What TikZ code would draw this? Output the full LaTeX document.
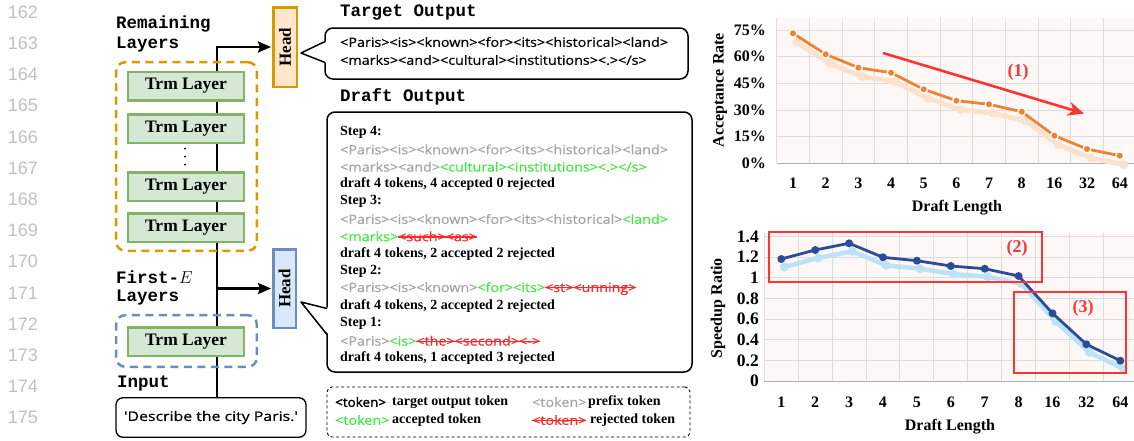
\documentclass[tikz,border=0pt]{standalone}
\usepackage{fontspec}
\setmainfont{Liberation Serif}
\newfontfamily\courb{Liberation Mono}
\newfontfamily\comic{Open Sans}[Ligatures=TeXOff, FakeStretch=1.12, FakeBold=0.6]
\newfontfamily\comicw{Open Sans}[Ligatures=TeXOff, FakeStretch=1.2, FakeBold=0.6]
\newfontfamily\comicb{Open Sans}[Ligatures=TeXOff, FakeStretch=1.05, FakeBold=1.8]
\newfontfamily\lnfont{Liberation Sans}
\usetikzlibrary{arrows.meta,backgrounds}
\definecolor{orgD}{HTML}{D79B00}
\definecolor{orgF}{HTML}{FFE6CC}
\definecolor{grnD}{HTML}{82B366}
\definecolor{grnF}{HTML}{D5E8D4}
\definecolor{bluD}{HTML}{6C8EBF}
\definecolor{bluF}{HTML}{DAE8FC}
\definecolor{tgray}{RGB}{165,165,165}
\definecolor{tgreen}{RGB}{70,232,70}
\definecolor{tred}{RGB}{255,40,40}
\definecolor{lngray}{RGB}{192,192,192}
\definecolor{plotbg}{RGB}{253,248,246}
\definecolor{gridc}{RGB}{220,220,220}
\definecolor{orgline}{RGB}{236,132,52}
\definecolor{orgshadow}{RGB}{252,226,206}
\definecolor{bluline}{RGB}{45,75,150}
\definecolor{blushadow}{RGB}{188,226,246}
\definecolor{annred}{RGB}{252,52,52}
\newsavebox\strikebox
\newcommand\tokpre[1]{\textcolor{tgray}{#1}}
\newcommand\tokacc[1]{\textcolor{tgreen}{#1}}
\newcommand\tokrej[1]{{\color{tred}\sbox\strikebox{#1}\rlap{\rule[0.28em]{\wd\strikebox}{1.5pt}}\usebox\strikebox}}
\begin{document}
\begin{tikzpicture}[x=1pt,y=-1pt,
  lnum/.style={font=\lnfont\fontsize{18}{20}\selectfont, text=lngray, inner sep=0pt},
  mono/.style={font=\courb\bfseries\fontsize{17.5}{20}\selectfont, anchor=west, inner sep=0pt},
  trm/.style={draw=grnD, fill=grnF, line width=2.5pt, minimum width=116pt, minimum height=28.5pt, inner sep=0pt, font=\bfseries\fontsize{17.5}{20}\selectfont},
  grp/.style={draw, dashed, dash pattern=on 8pt off 5.5pt, line width=2.5pt, rounded corners=9pt, inner sep=0pt},
  headbox/.style={line width=2.5pt, inner sep=0pt, font=\bfseries\fontsize{17}{20}\selectfont},
  spine/.style={line width=2.4pt, black},
  bubl/.style={draw, line width=1.5pt, fill=white, rounded corners=8pt, inner sep=0pt},
  tok/.style={font=\comic\fontsize{12.8}{15}\selectfont, anchor=west, inner sep=0pt},
  bt/.style={font=\bfseries\fontsize{14}{16}\selectfont, anchor=west, inner sep=0pt},
  tick/.style={font=\bfseries\fontsize{16}{18}\selectfont, inner sep=0pt},
  ticky/.style={font=\bfseries\fontsize{17.5}{19}\selectfont, inner sep=0pt},
  grid/.style={gridc, line width=0.9pt},
  ann/.style={annred, font=\bfseries\fontsize{18}{20}\selectfont, inner sep=0pt},
  annbox/.style={annred, line width=2.5pt},
  dot/.style={circle, fill=black, inner sep=0pt, minimum size=2pt}
]
\useasboundingbox (0,0) rectangle (1134,440);
% line numbers
\foreach \n [count=\i from 0] in {162,163,164,165,166,167,168,169,170,171,172,173,174,175}
  \node[lnum] (ln\n) at (23,{12+\i*31.2}) {\n};

% ---------- left: layers ----------
\node[mono] (rem1) at (116,24) {Remaining};
\node[mono] (rem2) at (116,45) {Layers};
\node[grp, draw=orgD, minimum width=140.6pt, minimum height=188.6pt] (grpR) at (186.5,156.5) {};
\node[trm] (L1) at (186,86) {Trm Layer};
\node[trm] (L2) at (186,128.5) {Trm Layer};
\node[dot] (d1) at (185,148.5) {};
\node[dot] (d2) at (185,156.5) {};
\node[dot] (d3) at (185,164.5) {};
\node[trm] (L3) at (186,186.5) {Trm Layer};
\node[trm] (L4) at (186,227.5) {Trm Layer};
\node[mono] (fe1) at (116,277) {First-$E$};
\node[mono] (fe2) at (116,298) {Layers};
\node[grp, draw=bluD, minimum width=140.6pt, minimum height=51.6pt] (grpB) at (186.5,341) {};
\node[trm] (L5) at (186,341.5) {Trm Layer};
\node[mono] (inlbl) at (117,383) {Input};
\node[draw, line width=1.3pt, rounded corners=7pt, minimum width=190pt, minimum height=39.5pt, inner sep=0pt, font=\comicw\fontsize{13.2}{15}\selectfont] (inp) at (211,417.5) {\char39 Describe the city Paris.\char39};
\node[headbox, draw=orgD, fill=orgF, minimum width=23.5pt, minimum height=79.5pt] (headR) at (285,47) {};
\node[headbox, rotate=90] (headRt) at (headR.center) {Head};
\node[headbox, draw=bluD, fill=bluF, minimum width=22.5pt, minimum height=78.5pt] (headB) at (284.5,288.5) {};
\node[headbox, rotate=90] (headBt) at (headB.center) {Head};
\coordinate (sp) at (217,0);
\begin{scope}[on background layer]
  \draw[spine] (sp |- inp.north) -- (sp |- headR.west) -- ([xshift=-13pt]headR.west);
  \draw[spine] (sp |- headB.west) -- ([xshift=-13pt]headB.west);
\end{scope}
\draw[spine, -{Stealth[length=13pt,width=11pt,inset=2pt]}] ([xshift=-14pt]headR.west) -- ([xshift=-1pt]headR.west);
\draw[spine, -{Stealth[length=13pt,width=11pt,inset=2pt]}] ([xshift=-14pt]headB.west) -- ([xshift=-1pt]headB.west);

% ---------- middle: outputs ----------
\node[mono] (tgtlbl) at (340,12) {Target Output};
\node[bubl, minimum width=363pt, minimum height=51pt] (tgt) at (506.5,53.5) {};
\coordinate (tgtTip) at (301,53);
\fill[white] (327,41) -- (tgtTip) -- (327,63) -- cycle;
\draw[line width=1.5pt, line join=round] (325,41.5) -- (tgtTip) -- (325,62.5);
\node[tok] (tg1) at (340,42) {<Paris><is><known><for><its><historical><land>};
\node[tok] (tg2) at (340,60) {<marks><and><cultural><institutions><.></s>};

\node[mono] (dftlbl) at (340,97) {Draft Output};
\node[bubl, minimum width=365pt, minimum height=260pt] (dft) at (509.5,242) {};
\coordinate (dftTip) at (301,302);
\fill[white] (329,308) -- (dftTip) -- (329,335) -- cycle;
\draw[line width=1.5pt, line join=round] (327,308.5) -- (dftTip) -- (327,334.5);

\node[bt] (st4) at (340,132) {Step 4:};
\node[tok] (s4a) at (340,149.4) {\tokpre{<Paris><is><known><for><its><historical><land>}};
\node[tok] (s4b) at (340,166.8) {\tokpre{<marks><and>}\tokacc{<cultural><institutions><.></s>}};
\node[bt] (s4c) at (340,184.2) {draft 4 tokens, 4 accepted 0 rejected};
\node[bt] (st3) at (340,201.6) {Step 3:};
\node[tok] (s3a) at (340,219) {\tokpre{<Paris><is><known><for><its><historical>}\tokacc{<land>}};
\node[tok] (s3b) at (340,236.4) {\tokacc{<marks>}\tokrej{<such><as>}};
\node[bt] (s3c) at (340,253.8) {draft 4 tokens, 2 accepted 2 rejected};
\node[bt] (st2) at (340,271.2) {Step 2:};
\node[tok] (s2a) at (340,288.6) {\tokpre{<Paris><is><known>}\tokacc{<for><its>}\tokrej{<st><unning>}};
\node[bt] (s2c) at (340,306) {draft 4 tokens, 2 accepted 2 rejected};
\node[bt] (st1) at (340,323.4) {Step 1:};
\node[tok] (s1a) at (340,340.8) {\tokpre{<Paris>}\tokacc{<is>}\tokrej{<the><second><->}};
\node[bt] (s1c) at (340,358.2) {draft 4 tokens, 1 accepted 3 rejected};

% legend
\node[draw, dashed, dash pattern=on 3pt off 2.5pt, line width=0.9pt, rounded corners=5pt, minimum width=363pt, minimum height=50pt, inner sep=0pt] (leg) at (508.5,412) {};
\node[tok, font=\comicb\fontsize{12.8}{15}\selectfont] (lg1a) at (335,402) {<token>};
\node[bt] (lg1b) at (392,402) {target output token};
\node[tok] (lg1c) at (532,402) {\tokpre{<token>}};
\node[bt] (lg1d) at (588,402) {prefix token};
\node[tok] (lg2a) at (335,420) {\tokacc{<token>}};
\node[bt] (lg2b) at (392,420) {accepted token};
\node[tok] (lg2c) at (532,420) {\tokrej{<token>}};
\node[bt] (lg2d) at (590,420) {rejected token};

% ---------- top chart ----------
\fill[plotbg] (776.7,18) rectangle (1134,163.3);
\foreach \k in {0,...,11} \draw[grid] ({776.7+\k*32.67},18) -- ({776.7+\k*32.67},163.3);
\foreach \k in {1,...,5} \draw[grid] (776.7,{163.3-\k*26.67}) -- (1134,{163.3-\k*26.67});
\draw[gridc!80!black, line width=1pt] (776.7,163.3) -- (1134,163.3);
\foreach \k/\t in {0/0,1/15,2/30,3/45,4/60,5/75}
  \node[tick, anchor=east] (ty\k) at (766,{163.3-\k*26.67}) {\t\%};
\foreach \t [count=\i] in {1,2,3,4,5,6,7,8,16,32,64}
  \node[tick] (tx\i) at ({776.7+(\i-0.5)*32.67},183) {\t};
\node[tick] (txt) at (957,208) {Draft Length};
\node[tick, rotate=90] (tyt) at (720,90) {Acceptance Rate};
\begin{scope}[shift={(4,9)}]
\draw[orgshadow, line width=5pt, line join=round] plot coordinates {(793.0,33.3) (825.7,54.3) (858.4,67.7) (891.0,72.7) (923.7,89.3) (956.4,100.7) (989.0,104.3) (1021.7,111.7) (1054.4,135.7) (1087.0,149) (1119.7,155.7)};
\foreach \px/\py in {793.0/33.3,825.7/54.3,858.4/67.7,891.0/72.7,923.7/89.3,956.4/100.7,989.0/104.3,1021.7/111.7,1054.4/135.7,1087.0/149,1119.7/155.7}
  \fill[orgshadow] (\px,\py) circle (4.5pt);
\end{scope}
\draw[orgline, line width=2.8pt, line join=round] plot coordinates {(793.0,33.3) (825.7,54.3) (858.4,67.7) (891.0,72.7) (923.7,89.3) (956.4,100.7) (989.0,104.3) (1021.7,111.7) (1054.4,135.7) (1087.0,149) (1119.7,155.7)};
\foreach \px/\py in {793.0/33.3,825.7/54.3,858.4/67.7,891.0/72.7,923.7/89.3,956.4/100.7,989.0/104.3,1021.7/111.7,1054.4/135.7,1087.0/149,1119.7/155.7}
  \filldraw[orgline, draw=white, line width=1.2pt] (\px,\py) circle (3.8pt);
\coordinate (a1s) at (883,53);
\coordinate (a1e) at (1084,113.5);
\draw[annred, line width=2.6pt, -{Stealth[length=16pt,width=14pt,inset=5pt]}] (a1s) -- (a1e);
\node[ann] (n1) at (1018,72) {(1)};

% ---------- bottom chart ----------
\fill[plotbg] (764.3,233) rectangle (1134,381);
\foreach \k in {0,...,11} \draw[grid] ({764.3+\k*33.9},233) -- ({764.3+\k*33.9},381);
\foreach \k in {1,...,7} \draw[grid] (764.3,{381-\k*20.62}) -- (1134,{381-\k*20.62});
\draw[gridc!80!black, line width=1pt] (764.3,381) -- (1134,381);
\foreach \k/\t in {0/0,1/0.2,2/0.4,3/0.6,4/0.8,5/1,6/1.2,7/1.4}
  \node[ticky, anchor=east] (by\k) at (759,{381-\k*20.62}) {\t};
\foreach \t [count=\i] in {1,2,3,4,5,6,7,8,16,32,64}
  \node[tick] (bx\i) at ({764.3+(\i-0.5)*33.9},402) {\t};
\node[tick] (bxt) at (950,427) {Draft Length};
\node[tick, rotate=90] (byt) at (718,308) {Speedup Ratio};
\begin{scope}[shift={(3,8)}]
\draw[blushadow, line width=4.5pt, line join=round] plot coordinates {(781.3,259) (815.2,250) (849.1,243.3) (883.0,257.3) (916.9,260.7) (950.8,266) (984.7,268.7) (1018.6,276) (1052.5,313.3) (1086.4,344.3) (1120.3,360.7)};
\foreach \px/\py in {781.3/259,815.2/250,849.1/243.3,883.0/257.3,916.9/260.7,950.8/266,984.7/268.7,1018.6/276,1052.5/313.3,1086.4/344.3,1120.3/360.7}
  \fill[blushadow] (\px,\py) circle (4.5pt);
\end{scope}
\draw[bluline, line width=2.8pt, line join=round] plot coordinates {(781.3,259) (815.2,250) (849.1,243.3) (883.0,257.3) (916.9,260.7) (950.8,266) (984.7,268.7) (1018.6,276) (1052.5,313.3) (1086.4,344.3) (1120.3,360.7)};
\foreach \px/\py in {781.3/259,815.2/250,849.1/243.3,883.0/257.3,916.9/260.7,950.8/266,984.7/268.7,1018.6/276,1052.5/313.3,1086.4/344.3,1120.3/360.7}
  \fill[bluline] (\px,\py) circle (4pt);
\draw[annbox] (769,232) rectangle (1042,282);
\draw[annbox] (1014,292) rectangle (1126,373);
\node[ann] (n2) at (1017,248) {(2)};
\node[ann] (n3) at (1083,308) {(3)};
\end{tikzpicture}
\end{document}
